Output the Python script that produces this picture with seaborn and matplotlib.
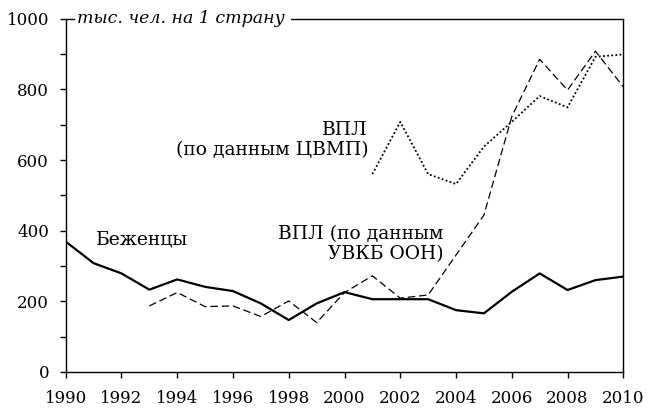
import numpy as np
import pandas as pd
import matplotlib
matplotlib.use("Agg")
import matplotlib.pyplot as plt
import seaborn as sns

years = list(range(1990, 2011))
refugees = [369, 308, 279, 233, 262, 241, 229, 194, 147, 194, 226,
            206, 206, 206, 175, 166, 227, 279, 232, 260, 270]

unhcr_years = list(range(1993, 2011))
idp_unhcr = [187, 225, 185, 187, 157, 201, 140, 225, 272, 209, 218,
             331, 444, 723, 885, 798, 908, 807]

idmc_years = list(range(2001, 2011))
idp_idmc = [560, 708, 560, 532, 638, 708, 781, 749, 892, 899]

x_ticks = list(range(1990, 2011, 2))
y_ticks = [0, 200, 400, 600, 800, 1000]

sns.set_style("ticks")
plt.rcParams["font.family"] = ["DejaVu Serif", "Liberation Serif"]
plt.rcParams["text.color"] = "black"

fig = plt.figure(figsize=(6.48, 4.09), dpi=100)
ax = fig.add_axes([0.1014, 0.0905, 0.8605, 0.8638])

sns.lineplot(x=years, y=refugees, ax=ax, color="black", lw=1.6)
sns.lineplot(x=unhcr_years, y=idp_unhcr, ax=ax, color="black", lw=0.9,
             linestyle=(0, (6, 3)))
sns.lineplot(x=idmc_years, y=idp_idmc, ax=ax, color="black", lw=1.3,
             linestyle=(0, (1, 1.3)))

ax.set_xlim(1990, 2010)
ax.set_ylim(0, 1000)
ax.set_xticks(x_ticks)
ax.set_yticks(y_ticks)
ax.set_yticks(range(100, 1000, 200), minor=True)
ax.tick_params(axis="both", which="both", direction="out", length=4,
               width=1, color="black", labelcolor="black", labelsize=12)
ax.tick_params(axis="y", pad=8)
ax.tick_params(axis="x", pad=9)
for s in ax.spines.values():
    s.set_visible(True)
    s.set_color("black")
    s.set_linewidth(1)
ax.set_xlabel("")
ax.set_ylabel("")

ax.text(0.02, 1.0, "тыс. чел. на 1 страну ", transform=ax.transAxes,
        ha="left", va="center", fontsize=12.5, style="italic",
        bbox=dict(facecolor="white", edgecolor="none", pad=1))

ax.text(1991.1, 374, "Беженцы", fontsize=13.5, ha="left", va="center")
ax.text(2000.85, 656, "ВПЛ\n(по данным ЦВМП)", fontsize=13.5, ha="right",
        va="center", multialignment="right", linespacing=1.15)
ax.text(2003.55, 362, "ВПЛ (по данным\nУВКБ ООН)", fontsize=13.5, ha="right",
        va="center", multialignment="right", linespacing=1.15)

fig.savefig("out.png", dpi=100)
